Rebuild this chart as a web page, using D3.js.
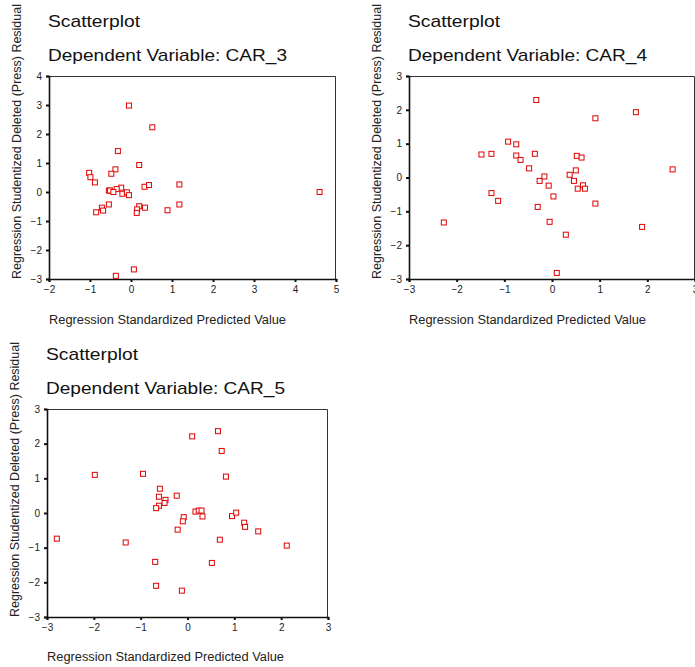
<!DOCTYPE html>
<html>
<head>
<meta charset="utf-8">
<script src="https://cdn.jsdelivr.net/npm/d3@7/dist/d3.min.js"></script>
<style>
  html, body { margin: 0; padding: 0; background: #fff; }
  svg { display: block; font-family: "Liberation Sans", Arial, sans-serif; }
  .title { font-size: 17px; fill: #111; }
  .axis-label { font-size: 12px; fill: #222; }
  .tick-label { font-size: 10px; fill: #222; }
</style>
</head>
<body>
<svg id="chart" width="695" height="667"></svg>
<script>
// values: [standardized predicted, studentized deleted residual]
const car3 = [
  [-0.05, 2.98], [0.52, 2.23], [-0.32, 1.41], [0.20, 0.93], [-0.38, 0.78],
  [-0.48, 0.63], [-1.02, 0.66], [-0.99, 0.51], [-0.88, 0.33], [-0.24, 0.15],
  [-0.35, 0.10], [-0.54, 0.05], [-0.51, 0.05], [-0.43, 0.00], [-0.21, -0.06],
  [-0.10, -0.01], [-0.05, -0.11], [0.33, 0.18], [0.44, 0.24], [1.18, 0.26],
  [1.18, -0.43], [-0.54, -0.43], [-0.71, -0.54], [-0.68, -0.64], [-0.85, -0.70],
  [0.20, -0.49], [0.34, -0.54], [0.15, -0.60], [0.14, -0.72], [0.89, -0.63],
  [0.07, -2.67], [-0.37, -2.89], [4.60, 0.00]
];

const car4 = [
  [-2.27, -1.33], [-1.48, 0.68], [-1.27, 0.70], [-1.27, -0.46], [-1.13, -0.69],
  [-0.92, 1.06], [-0.75, 0.98], [-0.75, 0.65], [-0.66, 0.52], [-0.48, 0.27],
  [-0.36, 0.70], [-0.33, 2.29], [-0.26, -0.10], [-0.16, 0.03], [-0.30, -0.87],
  [-0.07, -0.24], [0.03, -0.56], [-0.05, -1.31], [0.29, -1.69], [0.10, -2.82],
  [0.37, 0.08], [0.46, -0.10], [0.50, 0.21], [0.52, 0.64], [0.62, 0.59],
  [0.54, -0.33], [0.65, -0.23], [0.69, -0.33], [0.91, 1.75], [0.91, -0.77],
  [1.76, 1.93], [1.89, -1.46], [2.53, 0.24]
];

const car5 = [
  [-2.79, -0.74], [-1.98, 1.10], [-0.95, 1.13], [-1.32, -0.85], [-0.59, 0.70],
  [-0.61, 0.47], [-0.47, 0.38], [-0.49, 0.29], [-0.61, 0.21], [-0.67, 0.14],
  [-0.23, 0.50], [-0.21, -0.48], [-0.69, -1.41], [-0.67, -2.10], [0.10, 2.21],
  [0.65, 2.36], [0.73, 1.79], [0.82, 1.05], [-0.08, -0.12], [-0.10, -0.24],
  [0.17, 0.04], [0.24, 0.07], [0.30, 0.07], [0.32, -0.10], [0.95, -0.09],
  [1.04, 0.01], [1.21, -0.28], [1.23, -0.40], [1.51, -0.53], [2.12, -0.94],
  [0.69, -0.77], [0.52, -1.44], [-0.12, -2.24]
];

const car3XTicks = [-2, -1, 0, 1, 2, 3, 4, 5];
const car3YTicks = [-3, -2, -1, 0, 1, 2, 3, 4];
const car4XTicks = [-3, -2, -1, 0, 1, 2, 3];
const car4YTicks = [-3, -2, -1, 0, 1, 2, 3];
const car5XTicks = [-3, -2, -1, 0, 1, 2, 3];
const car5YTicks = [-3, -2, -1, 0, 1, 2, 3];

const titleText = 'Scatterplot';
const xLabelText = 'Regression Standardized Predicted Value';
const yLabelText = 'Regression Studentized Deleted (Press) Residual';

// the original's text is a bit stretched sideways, so fix the run lengths
const TITLE_LEN = 92, SUBTITLE_LEN = 239, XLABEL_LEN = 237, YLABEL_LEN = 275;

const panels = [
  { name: 'CAR_3', data: car3, xTicks: car3XTicks, yTicks: car3YTicks,
    box: { left: 49, right: 336, top: 76, bottom: 279 }, labelX: 21, titleY: 27, xLabelY: 324 },
  { name: 'CAR_4', data: car4, xTicks: car4XTicks, yTicks: car4YTicks,
    box: { left: 409, right: 695, top: 76, bottom: 279 }, labelX: 381, titleY: 27, xLabelY: 324 },
  { name: 'CAR_5', data: car5, xTicks: car5XTicks, yTicks: car5YTicks,
    box: { left: 47, right: 328, top: 409, bottom: 617 }, labelX: 19, titleY: 360, xLabelY: 661 }
];

const svg = d3.select('#chart');

function stretched(sel, len) {
  return sel.attr('textLength', len).attr('lengthAdjust', 'spacingAndGlyphs');
}

function drawPanel(p) {
  const b = p.box;
  const x = d3.scaleLinear()
    .domain(d3.extent(p.xTicks))
    .range([b.left, b.right]);
  const y = d3.scaleLinear()
    .domain(d3.extent(p.yTicks))
    .range([b.bottom, b.top]);

  const g = svg.append('g');

  g.append('text')
    .attr('class', 'title')
    .attr('x', b.left - 1)
    .attr('y', p.titleY)
    .text(titleText)
    .call(stretched, TITLE_LEN);

  g.append('text')
    .attr('class', 'title')
    .attr('x', b.left - 1)
    .attr('y', p.titleY + 34)
    .text('Dependent Variable: ' + p.name)
    .call(stretched, SUBTITLE_LEN);

  // top + right border, thin
  g.append('path')
    .attr('d', `M${b.left},${b.top + 0.5}H${b.right - 0.5}V${b.bottom}`)
    .attr('fill', 'none')
    .attr('stroke', '#333')
    .attr('stroke-width', 1);

  const xAxis = g.append('g')
    .attr('transform', `translate(0,${b.bottom})`)
    .call(d3.axisBottom(x).tickValues(p.xTicks).tickSize(3).tickPadding(4).tickFormat(d3.format('d')));

  const yAxis = g.append('g')
    .attr('transform', `translate(${b.left},0)`)
    .call(d3.axisLeft(y).tickValues(p.yTicks).tickSize(3).tickPadding(4).tickFormat(d3.format('d')));

  [xAxis, yAxis].forEach(ax => {
    ax.select('.domain').attr('stroke', '#111').attr('stroke-width', 1.6);
    ax.selectAll('.tick line').attr('stroke', '#111').attr('stroke-width', 2);
    ax.selectAll('.tick text')
      .attr('class', 'tick-label')
      .attr('font-family', null)
      .attr('font-size', null)
      .attr('fill', null);
  });

  g.append('text')
    .attr('class', 'axis-label')
    .attr('x', b.left)
    .attr('y', p.xLabelY)
    .text(xLabelText)
    .call(stretched, XLABEL_LEN);

  g.append('text')
    .attr('class', 'axis-label')
    .attr('transform', `translate(${p.labelX},${b.bottom}) rotate(-90)`)
    .text(yLabelText)
    .call(stretched, YLABEL_LEN);

  g.append('g')
    .selectAll('rect')
    .data(p.data)
    .join('rect')
    .attr('x', d => x(d[0]) - 2.5)
    .attr('y', d => y(d[1]) - 2.5)
    .attr('width', 5)
    .attr('height', 5)
    .attr('fill', '#fff')
    .attr('stroke', '#e00000')
    .attr('stroke-width', 1);
}

panels.forEach(drawPanel);
</script>
</body>
</html>
